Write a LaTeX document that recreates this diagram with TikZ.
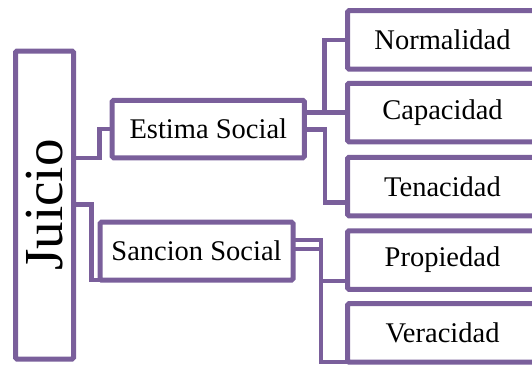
\documentclass[tikz,border=0pt]{standalone}
\usepackage{fontspec}
\setmainfont{Liberation Serif}
\definecolor{linkpurple}{RGB}{122,95,155}
\begin{document}
\begin{tikzpicture}[x=1pt,y=-1pt,
  box/.style={draw=linkpurple, line width=5pt, rounded corners=1.5pt,
    inner sep=0pt, outer sep=0pt, text=black,
    font=\fontsize{28.5}{30}\selectfont},
  leaf/.style={box, minimum width=190, minimum height=58.5, anchor=west},
  link/.style={draw=linkpurple, line width=4.5pt, line join=miter}]
\path[use as bounding box] (0,0) rectangle (532,365);
\clip (0,0) rectangle (532,365);

% root and middle level
\node[box, minimum width=58, minimum height=308,
      font=\fontsize{55}{60}\selectfont] (juicio) at (44.5,205) {\rotatebox{90}{Juicio}};
\node[box, minimum width=192.3, minimum height=57.5] (estima) at (208.3,129) {Estima Social};
\node[box, minimum width=193, minimum height=58] (sancion) at (196.5,251.2) {Sancion Social};

% leaves
\node[leaf] (normalidad) at (347.5,39.8) {Normalidad};
\node[leaf] (capacidad) at (347.5,112.5) {Capacidad};
\node[leaf] (tenacidad) at (347.5,186.5) {Tenacidad};
\node[leaf] (propiedad) at (347.5,260) {Propiedad};
\node[leaf] (veracidad) at (347.5,332.8) {Veracidad};

% elbow points
\coordinate (jeTurn) at (99.5,158);
\coordinate (jsTurn) at (91.5,204.5);
\coordinate (enTurn) at (324.7,112.5);
\coordinate (etA) at (325,129.5);
\coordinate (etB) at (325,202.5);
\coordinate (svA) at (320.5,240);
\coordinate (spA) at (320.5,248.5);
\coordinate (spB) at (320.5,281.3);

% root to middle level
\draw[link] (juicio.east |- jeTurn) -- (jeTurn) |- (estima.west);
\draw[link] (juicio.east |- jsTurn) -- (jsTurn) |- (sancion.south west);

% Estima Social branches
\draw[link] (estima.east |- capacidad.west) -- (capacidad.west);
\draw[link] (enTurn) |- (normalidad.west);
\draw[link] (estima.east |- etA) -- (etA) -- (etB) -- (tenacidad.west |- etB);

% Sancion Social branches
\draw[link, line width=4pt] (sancion.east |- svA) -- (svA) |- (veracidad.south west);
\draw[link, line width=4pt] (sancion.east |- spA) -- (spA) -- (spB) -- (propiedad.west |- spB);
\end{tikzpicture}
\end{document}
